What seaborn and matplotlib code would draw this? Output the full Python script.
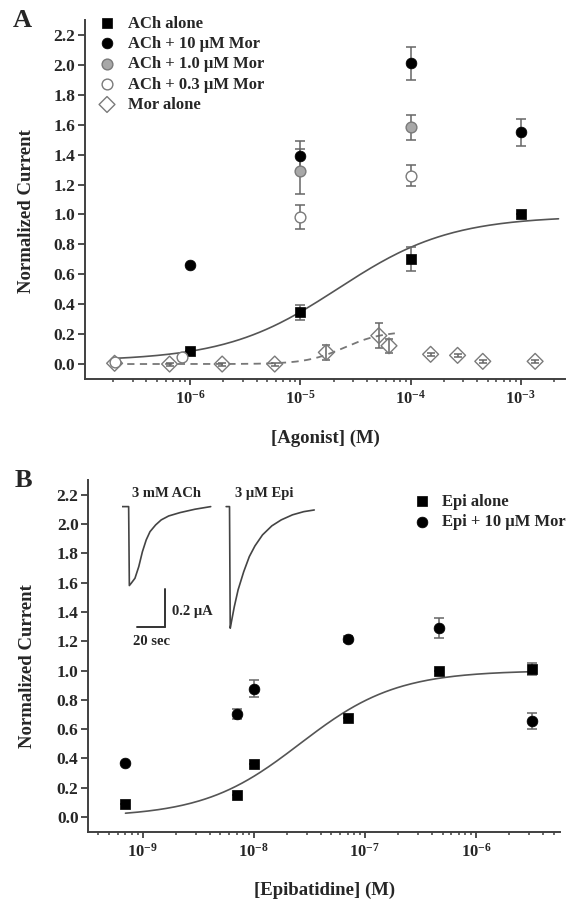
import numpy as np
import matplotlib
matplotlib.use("Agg")
import matplotlib.pyplot as plt
import seaborn as sns
from matplotlib.ticker import LogLocator, FuncFormatter, NullFormatter, FixedLocator

# ---- panel A data ----
ach_conc = [1e-6, 1e-5, 1e-4, 1e-3]
ach_alone = [0.087, 0.346, 0.70, 1.0]
ach_alone_err = [0.0, 0.05, 0.08, 0.0]
mor10 = [0.662, 1.39, 2.01, 1.55]
mor10_err = [0.0, 0.10, 0.11, 0.09]
mor1_conc = [1e-5, 1e-4]
mor1 = [1.29, 1.583]
mor1_err = [0.15, 0.085]
mor03_conc = [2.06e-7, 8.5e-7, 1e-5, 1e-4]
mor03 = [0.015, 0.045, 0.98, 1.26]
mor03_err = [0.0, 0.0, 0.08, 0.07]
moralone_conc = [2.06e-7, 6.5e-7, 1.95e-6, 5.85e-6, 1.72e-5, 5.15e-5,
                 6.37e-5, 1.52e-4, 2.67e-4, 4.52e-4, 1.35e-3]
moralone = [0.005, 0.0, 0.0, 0.0, 0.078, 0.19, 0.122, 0.065, 0.058, 0.018, 0.018]
moralone_err = [0.01, 0.01, 0.01, 0.01, 0.05, 0.085, 0.045, 0.01, 0.01, 0.01, 0.01]

# fitted Hill parameters (bottom, top, EC50, slope) and plotted range
ach_fit = (0.02, 0.99, 2.2e-5, 0.85)
ach_fit_range = (2.06e-7, 2.2e-3)
mor_fit = (0.0, 0.22, 2.5e-5, 2.5)
mor_fit_range = (2.06e-7, 7.2e-5)

# ---- panel B data ----
epi_conc = [7e-10, 7e-9, 1.0e-8, 7e-8, 4.6e-7, 3.2e-6]
epi_alone = [0.089, 0.153, 0.363, 0.678, 0.995, 1.01]
epi_alone_err = [0.0, 0.0, 0.0, 0.0, 0.0, 0.04]
epi_mor = [0.37, 0.705, 0.877, 1.215, 1.288, 0.655]
epi_mor_err = [0.0, 0.035, 0.057, 0.02, 0.067, 0.057]
epi_fit = (0.0, 1.0, 2.6e-8, 1.0)
epi_fit_range = (7e-10, 3.2e-6)

# inset current traces (time in s, current in uA)
ach_trace_t = [0, 4.8, 5.3, 6.6, 9.3, 12.0, 14.6, 17.3, 20.0, 24.0, 28.0, 33.3, 41.4, 52.0, 63.2]
ach_trace_i = [0, 0, -0.422, -0.41, -0.383, -0.321, -0.241, -0.178, -0.134, -0.098,
               -0.071, -0.05, -0.032, -0.014, 0.0]
epi_trace_t = [74.2, 76.6, 77.1, 78.2, 80.0, 82.7, 86.7, 90.7, 94.7, 100.1, 106.7,
               113.4, 121.4, 129.4, 136.9]
epi_trace_i = [0, 0, -0.65, -0.606, -0.535, -0.445, -0.348, -0.267, -0.21, -0.151,
               -0.103, -0.071, -0.044, -0.027, -0.018]

yticks = [0.0, 0.2, 0.4, 0.6, 0.8, 1.0, 1.2, 1.4, 1.6, 1.8, 2.0, 2.2]
a_xticks = [1e-6, 1e-5, 1e-4, 1e-3]
b_xticks = [1e-9, 1e-8, 1e-7, 1e-6]


def hill(x, bottom, top, ec50, n):
    return bottom + (top - bottom) / (1 + (ec50 / x) ** n)


sns.set_style("ticks")
plt.rcParams["font.family"] = ["Liberation Serif", "DejaVu Serif"]
plt.rcParams["font.weight"] = "bold"
plt.rcParams["axes.labelweight"] = "bold"
plt.rcParams["mathtext.fontset"] = "custom"
plt.rcParams["mathtext.rm"] = "Liberation Serif:bold"
plt.rcParams["mathtext.it"] = "Liberation Serif:bold"
plt.rcParams["mathtext.bf"] = "Liberation Serif:bold"
plt.rcParams["mathtext.default"] = "regular"

spine_col = "#404040"
err_col = "#666666"
gray_edge = "#7a7a7a"

fig = plt.figure(figsize=(5.82, 9), dpi=100)
W, H = 582.0, 900.0
axA = fig.add_axes([85 / W, 1 - 379 / H, (565 - 85) / W, (379 - 20) / H])
axB = fig.add_axes([88.3 / W, 1 - 831.7 / H, (560 - 88.3) / W, (831.7 - 480) / H])


def style_axis(ax, xticks):
    ax.set_xscale("log")
    sns.despine(ax=ax)
    for s in ["left", "bottom"]:
        ax.spines[s].set_color(spine_col)
        ax.spines[s].set_linewidth(1.4)
    ax.set_ylim(-0.1, 2.3)
    ax.set_yticks(yticks)
    ax.yaxis.set_major_formatter(FuncFormatter(lambda v, p: "%.1f" % v))
    ax.xaxis.set_major_locator(FixedLocator(xticks))
    ax.xaxis.set_minor_locator(LogLocator(base=10, subs=np.arange(2, 10)))
    ax.xaxis.set_minor_formatter(NullFormatter())
    ax.xaxis.set_major_formatter(
        FuncFormatter(lambda v, p: r"$\mathdefault{10^{%d}}$" % round(np.log10(v))))
    ax.tick_params(axis="y", direction="out", length=5, width=1.3, pad=2,
                   color=spine_col, labelsize=12.5)
    ax.tick_params(axis="x", which="major", direction="out", length=4, width=1.3,
                   pad=4, color=spine_col, labelsize=12)
    ax.tick_params(axis="x", which="minor", direction="out", length=2.5, width=1.1,
                   color=spine_col)


def errbars(ax, x, y, e, cap=3.5):
    ax.errorbar(x, y, yerr=e, fmt="none", ecolor=err_col, elinewidth=1.1,
                capsize=cap, capthick=1.1, zorder=2)


# ---------------- panel A ----------------
style_axis(axA, a_xticks)
axA.set_xlim(1.11e-7, 2.52e-3)

xs = np.logspace(np.log10(ach_fit_range[0]), np.log10(ach_fit_range[1]), 200)
axA.plot(xs, hill(xs, *ach_fit), color="#555555", lw=1.2, zorder=1)
xs = np.logspace(np.log10(mor_fit_range[0]), np.log10(mor_fit_range[1]), 200)
axA.plot(xs, hill(xs, *mor_fit), color="#777777", lw=1.3, ls=(0, (4, 3)), zorder=1)

errbars(axA, ach_conc, ach_alone, ach_alone_err)
errbars(axA, ach_conc, mor10, mor10_err)
errbars(axA, mor1_conc, mor1, mor1_err)
errbars(axA, mor03_conc, mor03, mor03_err)
errbars(axA, moralone_conc, moralone, moralone_err, cap=3)

sns.scatterplot(x=ach_conc, y=ach_alone, ax=axA, marker="s", s=55, color="black",
                edgecolor="black", linewidth=0.5, label="ACh alone", zorder=4)
sns.scatterplot(x=ach_conc, y=mor10, ax=axA, marker="o", s=60, color="black",
                edgecolor="black", linewidth=0.5, label="ACh + 10 \u03bcM Mor", zorder=4)
sns.scatterplot(x=mor1_conc, y=mor1, ax=axA, marker="o", s=60, color="#a8a8a8",
                edgecolor=gray_edge, linewidth=1.0, label="ACh + 1.0 \u03bcM Mor", zorder=4)
sns.scatterplot(x=mor03_conc, y=mor03, ax=axA, marker="o", s=60, color="white",
                edgecolor=gray_edge, linewidth=1.0, label="ACh + 0.3 \u03bcM Mor", zorder=4)
sns.scatterplot(x=moralone_conc, y=moralone, ax=axA, marker="D", s=65, color="none",
                edgecolor=gray_edge, linewidth=1.0, label="Mor alone", zorder=3)

handles, labels = axA.get_legend_handles_labels()
axA.legend(handles, labels, loc="upper left", bbox_to_anchor=(0.0285, 1.0125),
           frameon=False, fontsize=12, handlelength=1.0, handletextpad=0.75,
           labelspacing=0.26, borderpad=0, borderaxespad=0)

axA.set_xlabel("[Agonist] (M)", fontsize=13.5)
axA.set_ylabel("Normalized Current", fontsize=13.5, va="center")
axA.xaxis.set_label_coords(0.5, -0.142)
axA.yaxis.set_label_coords(-0.121, 0.467)

# ---------------- panel B ----------------
style_axis(axB, b_xticks)
axB.set_xlim(3.24e-10, 5.7e-6)

xs = np.logspace(np.log10(epi_fit_range[0]), np.log10(epi_fit_range[1]), 200)
axB.plot(xs, hill(xs, *epi_fit), color="#555555", lw=1.2, zorder=1)

errbars(axB, epi_conc, epi_alone, epi_alone_err)
errbars(axB, epi_conc, epi_mor, epi_mor_err)
sns.scatterplot(x=epi_conc, y=epi_alone, ax=axB, marker="s", s=55, color="black",
                edgecolor="black", linewidth=0.5, label="Epi alone", zorder=4)
sns.scatterplot(x=epi_conc, y=epi_mor, ax=axB, marker="o", s=60, color="black",
                edgecolor="black", linewidth=0.5, label="Epi + 10 \u03bcM Mor", zorder=4)

handles, labels = axB.get_legend_handles_labels()
axB.legend(handles, labels, loc="upper left", bbox_to_anchor=(0.689, 0.961),
           frameon=False, fontsize=12, handlelength=1.0, handletextpad=0.7,
           labelspacing=0.26, borderpad=0, borderaxespad=0)

axB.set_xlabel("[Epibatidine] (M)", fontsize=13.5)
axB.set_ylabel("Normalized Current", fontsize=13.5, va="center")
axB.xaxis.set_label_coords(0.5, -0.143)
axB.yaxis.set_label_coords(-0.128, 0.47)

# inset traces
axI = fig.add_axes([121.9 / W, 1 - 646.9 / H, 196.7 / W, 159 / H])
axI.set_xlim(0, 140)
axI.set_ylim(-0.75, 0.1)
axI.axis("off")
sns.lineplot(x=ach_trace_t, y=ach_trace_i, ax=axI, color="#444444", lw=1.2,
             sort=False, estimator=None)
sns.lineplot(x=epi_trace_t, y=epi_trace_i, ax=axI, color="#444444", lw=1.2,
             sort=False, estimator=None)
axI.plot([30.7, 30.7], [-0.442, -0.642], color="#333333", lw=1.4)
axI.plot([10.7, 30.7], [-0.642, -0.642], color="#333333", lw=1.4)
axI.text(35.9, -0.561, "0.2 \u03bcA", fontsize=10.5, ha="left", va="center")
axI.text(21.4, -0.722, "20 sec", fontsize=10.5, ha="center", va="center")
axI.text(31.4, 0.072, "3 mM ACh", fontsize=10.5, ha="center", va="center")
axI.text(101, 0.072, "3 \u03bcM Epi", fontsize=10.5, ha="center", va="center")

fig.text(13 / W, 1 - 26.7 / H, "A", fontsize=19, fontweight="bold", va="baseline")
fig.text(15 / W, 1 - 486.7 / H, "B", fontsize=19, fontweight="bold", va="baseline")

fig.savefig("out.png", dpi=100)
